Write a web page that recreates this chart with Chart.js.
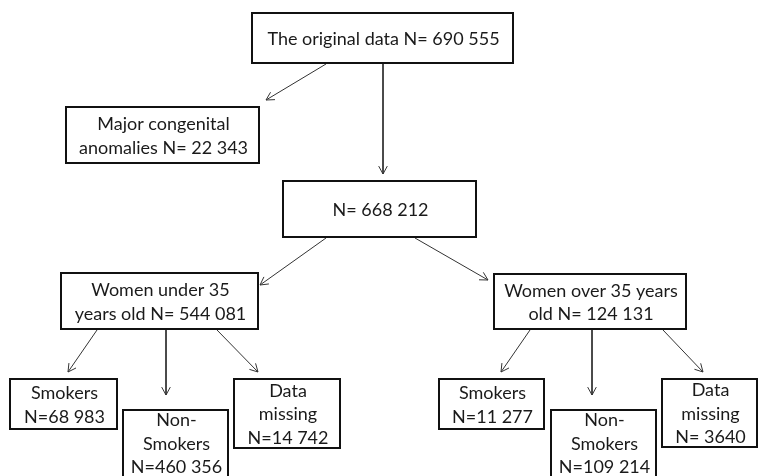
<!DOCTYPE html>
<html>
<head>
<meta charset="utf-8">
<script src="https://cdn.jsdelivr.net/npm/chart.js@4"></script>
<style>
  html, body { margin: 0; padding: 0; background: #fff; }
  #flow { display: block; }
</style>
</head>
<body>
<canvas id="flow" width="758" height="476"></canvas>
<script>
// Node texts ({n} is replaced by the count) and counts
const nodeTexts = [
  'The original data N= {n}',
  'Major congenital\nanomalies N= {n}',
  'N= {n}',
  'Women under 35\nyears old N= {n}',
  'Women over 35 years\nold N= {n}',
  'Smokers\nN={n}',
  'Non-\nSmokers\nN={n}',
  'Data\nmissing\nN={n}',
  'Smokers\nN={n}',
  'Non-\nSmokers\nN={n}',
  'Data\nmissing\nN= {n}'
];
const nodeCounts = [690555, 22343, 668212, 544081, 124131, 68983, 460356, 14742, 11277, 109214, 3640];
// parent -> child
const links = [[0, 1], [0, 2], [2, 3], [2, 4], [3, 5], [3, 6], [3, 7], [4, 8], [4, 9], [4, 10]];

// layout (chart units = pixels of the 758x476 frame)
const boxes = [
  [252, 13, 513, 63],
  [66, 107, 259, 163],
  [283, 181, 476, 237],
  [61, 273, 258, 329],
  [494, 274, 686, 329],
  [10, 379, 117, 429],
  [123, 410, 228, 495],
  [234, 379, 340, 448],
  [439, 379, 544, 429],
  [551, 410, 656, 495],
  [662, 379, 757, 447]
];
const arrowEnds = [
  [[326, 64], [266, 100]],
  [[383, 64], [383, 174]],
  [[326, 238], [260, 285]],
  [[415, 238], [488, 280]],
  [[97, 330], [68, 372]],
  [[166, 330], [166, 395]],
  [[217, 330], [258, 372]],
  [[530, 330], [501, 372]],
  [[592, 330], [592, 395]],
  [[663, 330], [703, 372]]
];

function fmt(n) {
  if (n < 10000) return String(n);
  return String(n).replace(/\B(?=(\d{3})+(?!\d))/g, ' ');
}

const arrowDatasets = links.map((l, i) => ({
  label: 'link ' + l[0] + '-' + l[1],
  data: arrowEnds[i].map(p => ({ x: p[0], y: p[1] })),
  showLine: true,
  borderColor: '#333',
  borderWidth: 1,
  pointRadius: 0
}));

const flowPlugin = {
  id: 'flow',
  afterDatasetsDraw(chart) {
    const ctx = chart.ctx;
    const xs = chart.scales.x, ys = chart.scales.y;
    ctx.save();
    // arrowheads
    ctx.strokeStyle = '#333';
    ctx.lineWidth = 1;
    arrowEnds.forEach(([a, b]) => {
      const x0 = xs.getPixelForValue(a[0]), y0 = ys.getPixelForValue(a[1]);
      const x1 = xs.getPixelForValue(b[0]), y1 = ys.getPixelForValue(b[1]);
      const ang = Math.atan2(y1 - y0, x1 - x0);
      const len = 9, spread = 0.5;
      ctx.beginPath();
      ctx.moveTo(x1 - len * Math.cos(ang - spread), y1 - len * Math.sin(ang - spread));
      ctx.lineTo(x1, y1);
      ctx.lineTo(x1 - len * Math.cos(ang + spread), y1 - len * Math.sin(ang + spread));
      ctx.stroke();
    });
    // boxes and text
    ctx.font = '18px Lato';
    ctx.textAlign = 'center';
    ctx.textBaseline = 'middle';
    boxes.forEach((b, i) => {
      const x0 = xs.getPixelForValue(b[0]), y0 = ys.getPixelForValue(b[1]);
      const x1 = xs.getPixelForValue(b[2]), y1 = ys.getPixelForValue(b[3]);
      ctx.fillStyle = '#fff';
      ctx.fillRect(x0, y0, x1 - x0, y1 - y0);
      ctx.strokeStyle = '#111';
      ctx.lineWidth = 2;
      ctx.strokeRect(x0, y0, x1 - x0, y1 - y0);
      const lines = nodeTexts[i].replace('{n}', fmt(nodeCounts[i])).split('\n');
      const lh = 23.5;
      const visBottom = Math.min(y1, chart.height);
      const cy = (y0 + visBottom) / 2 + 1;
      ctx.fillStyle = '#1a1a1a';
      lines.forEach((t, k) => {
        ctx.fillText(t, (x0 + x1) / 2 + 1, cy + (k - (lines.length - 1) / 2) * lh);
      });
    });
    ctx.restore();
  }
};

new Chart(document.getElementById('flow'), {
  type: 'scatter',
  data: { datasets: arrowDatasets },
  options: {
    responsive: false,
    animation: false,
    devicePixelRatio: 1,
    layout: { padding: 0 },
    plugins: { legend: { display: false }, tooltip: { enabled: false } },
    scales: {
      x: { type: 'linear', min: 0, max: 758, display: false },
      y: { type: 'linear', min: 0, max: 476, reverse: true, display: false }
    }
  },
  plugins: [flowPlugin]
});
</script>
</body>
</html>
